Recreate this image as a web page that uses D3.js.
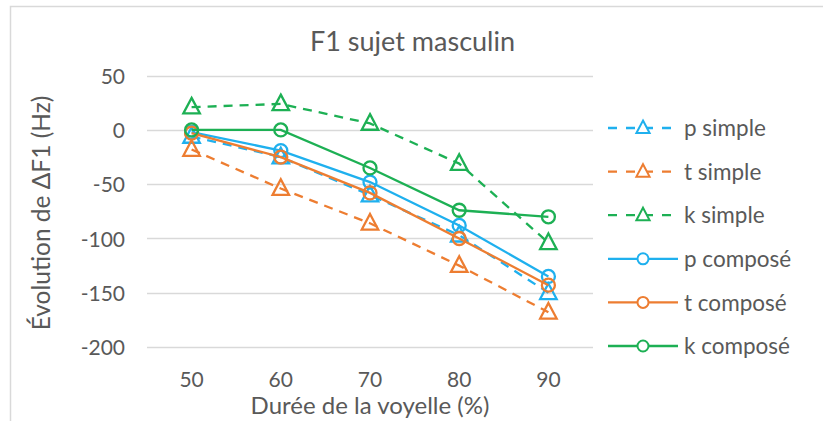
<!DOCTYPE html>
<html><head><meta charset="utf-8">
<script src="https://cdn.jsdelivr.net/npm/d3@7"></script>
<style>
html,body{margin:0;padding:0;background:#fff;}
svg text{font-family:Lato,"Open Sans",sans-serif;fill:#595959;}
</style></head>
<body><svg id="c" width="823" height="421"></svg>
<script>
const categories = ["50","60","70","80","90"];
const yTicks = [50, 0, -50, -100, -150, -200];
const seriesNames = ["p simple","t simple","k simple","p composé","t composé","k composé"];
const pSimple = [-6, -25, -60, -97, -150];
const tSimple = [-18, -54, -86, -125, -168];
const kSimple = [21, 24, 6, -31, -104];
const pCompose = [-2, -19, -48, -88, -135];
const tCompose = [-3, -25, -58, -100, -143];
const kCompose = [0, 0, -35, -74, -80];
const seriesValues = [pSimple, tSimple, kSimple, pCompose, tCompose, kCompose];
const seriesColors = ["#1FB0EE","#ED7D31","#1DB054","#1FB0EE","#ED7D31","#1DB054"];
const seriesDashed = [true,true,true,false,false,false];
const seriesMarker = ["triangle","triangle","triangle","circle","circle","circle"];

const svg = d3.select("#c");
svg.append("path").attr("d","M10.5,421 L10.5,6.5 L823,6.5").attr("fill","none").attr("stroke","#D9D9D9").attr("stroke-width",1.5);

const x = d3.scaleBand().domain(categories).range([147,593]);
const y = d3.scaleLinear().domain([-200,50]).range([347,75.7]);

svg.append("g").selectAll("line").data(yTicks).join("line")
  .attr("x1",147).attr("x2",593)
  .attr("y1",d=>Math.round(y(d))+0.5).attr("y2",d=>Math.round(y(d))+0.5)
  .attr("stroke","#D9D9D9").attr("stroke-width",1.5);

const yAxis = d3.axisLeft(y).tickValues(yTicks).tickSize(0).tickPadding(0).tickFormat(d=>String(d));
const gy = svg.append("g").attr("transform","translate(125,0)").call(yAxis);
gy.select(".domain").remove();
gy.selectAll("text").attr("font-size",21).attr("font-family",null).attr("fill","#595959").attr("dy","0.36em");

const xAxis = d3.axisBottom(x).tickSize(0).tickPadding(0);
const gx = svg.append("g").attr("transform","translate(0,387)").call(xAxis);
gx.select(".domain").remove();
gx.selectAll("text").attr("font-size",21).attr("font-family",null).attr("fill","#595959").attr("dy","0").attr("y",0);

svg.append("text").attr("x",412.5).attr("y",51).attr("text-anchor","middle").attr("font-size",27).text("F1 sujet masculin");
svg.append("text").attr("x",370).attr("y",414).attr("text-anchor","middle").attr("font-size",24).text("Durée de la voyelle (%)");
svg.append("text").attr("transform","translate(50,213) rotate(-90)").attr("text-anchor","middle").attr("font-size",24.5).text("Évolution de ΔF1 (Hz)");

const line = d3.line().x((d,i)=>x(categories[i])+x.bandwidth()/2).y(d=>y(d));
const triPath = s => `M0,${-s*0.62} L${s*0.55},${s*0.42} L${-s*0.55},${s*0.42} Z`;

seriesValues.forEach((vals,k)=>{
  const g = svg.append("g");
  g.append("path").attr("d",line(vals)).attr("fill","none")
    .attr("stroke",seriesColors[k]).attr("stroke-width",2.3)
    .attr("stroke-dasharray",seriesDashed[k]?"9,7":null);
  vals.forEach((v,i)=>{
    const cx = x(categories[i])+x.bandwidth()/2, cy = y(v);
    if(seriesMarker[k]==="triangle"){
      g.append("path").attr("d",triPath(15)).attr("transform",`translate(${cx},${cy})`)
        .attr("fill","none").attr("stroke",seriesColors[k]).attr("stroke-width",2.3);
    } else {
      g.append("circle").attr("cx",cx).attr("cy",cy).attr("r",6.5)
        .attr("fill","none").attr("stroke",seriesColors[k]).attr("stroke-width",2.3);
    }
  });
});

const legY = d3.scalePoint().domain(seriesNames).range([128,346]);
seriesNames.forEach((name,k)=>{
  const ly = legY(name);
  const g = svg.append("g");
  g.append("line").attr("x1",608).attr("x2",678).attr("y1",ly).attr("y2",ly)
    .attr("stroke",seriesColors[k]).attr("stroke-width",2.3)
    .attr("stroke-dasharray",seriesDashed[k]?"9,9":null);
  if(seriesMarker[k]==="triangle"){
    g.append("path").attr("d",triPath(12)).attr("transform",`translate(643,${ly})`)
      .attr("fill","#fff").attr("stroke",seriesColors[k]).attr("stroke-width",2);
  } else {
    g.append("circle").attr("cx",643).attr("cy",ly).attr("r",5.5)
      .attr("fill","#fff").attr("stroke",seriesColors[k]).attr("stroke-width",2);
  }
  g.append("text").attr("x",684).attr("y",ly).attr("dy","0.36em").attr("font-size",22.5).text(name);
});
</script></body></html>
